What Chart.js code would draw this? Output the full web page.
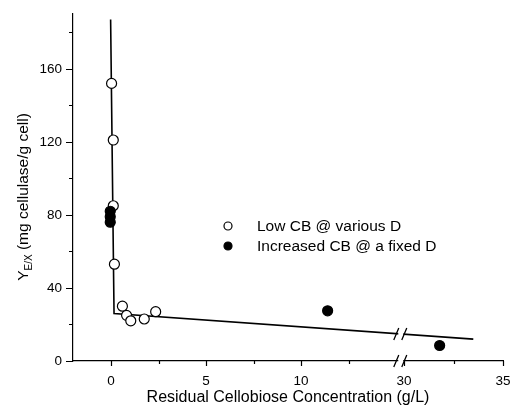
<!DOCTYPE html>
<html><head><meta charset="utf-8">
<script src="https://cdn.jsdelivr.net/npm/chart.js@4"></script>
<style>html,body{margin:0;padding:0;background:#fff}#wrap{width:510px;height:413px}</style>
</head><body><div id="wrap"><canvas id="c"></canvas></div>
<script>
// ---- data (real x values; x>=30 lie after the axis break) ----
const lowCB_x = [0.03, 0.12, 0.12, 0.18, 0.6, 0.82, 1.04, 1.75, 2.35];
const lowCB_y = [152, 121, 85, 53, 30, 25, 22, 23, 27];
const incCB_x = [-0.04, -0.04, -0.04, 11.4, 31.8];
const incCB_y = [82, 79, 76, 27.5, 8.5];
const fit_x = [-0.02, 0.16, 33.5];
const fit_y = [187, 26, 12];
const xMajorTicks = [0, 5, 10, 30, 35];
const xMinorTicks = [2.5, 7.5, 12.5, 32.5];
const yMajorTicks = [0, 40, 80, 120, 160];
const yMinorTicks = [20, 60, 100, 140, 180];
const seriesNames = ['Low CB @ various D', 'Increased CB @ a fixed D'];
const xTitle = 'Residual Cellobiose Concentration (g/L)';

// axis break mapping
const BREAK_LO = 15.42, BREAK_HI = 30, POST_SCALE = 1.042, BREAK_AT = 15.25;
function T(v){ return v >= BREAK_HI ? BREAK_LO + (v - BREAK_HI) * POST_SCALE : v; }
const pts = (xs, ys) => xs.map((x, i) => ({x: T(x), y: ys[i]}));
const xLabelMap = new Map(xMajorTicks.map(v => [T(v).toFixed(4), String(v)]));

const FONT = "'Liberation Sans', Arial, sans-serif";

const deco = {
  id: 'deco',
  afterDraw(chart){
    const ctx = chart.ctx, xs = chart.scales.x, ys = chart.scales.y, ca = chart.chartArea;
    ctx.save();
    ctx.strokeStyle = '#000'; ctx.lineWidth = 1.2;
    ctx.beginPath();
    yMajorTicks.forEach(v => { const p = Math.round(ys.getPixelForValue(v)) + 0.5; ctx.moveTo(ca.left - 7, p); ctx.lineTo(ca.left, p); });
    yMinorTicks.forEach(v => { const p = Math.round(ys.getPixelForValue(v)) + 0.5; ctx.moveTo(ca.left - 4, p); ctx.lineTo(ca.left, p); });
    xMajorTicks.forEach(v => { const p = Math.round(xs.getPixelForValue(T(v))) + 0.5; ctx.moveTo(p, ca.bottom); ctx.lineTo(p, ca.bottom + 5); });
    xMinorTicks.forEach(v => { const p = Math.round(xs.getPixelForValue(T(v))) + 0.5; ctx.moveTo(p, ca.bottom); ctx.lineTo(p, ca.bottom + 3); });
    ctx.stroke();

    const bx = xs.getPixelForValue(BREAK_AT);
    const drawBreak = (cy) => {
      ctx.fillStyle = '#fff';
      ctx.fillRect(bx - 2.5, cy - 2, 5, 4);
      ctx.beginPath();
      ctx.moveTo(bx - 7, cy + 6); ctx.lineTo(bx - 2, cy - 6);
      ctx.moveTo(bx + 1, cy + 6); ctx.lineTo(bx + 6, cy - 6);
      ctx.lineWidth = 1.3; ctx.strokeStyle = '#000'; ctx.stroke();
    };
    drawBreak(ca.bottom);
    const x1 = T(fit_x[1]), x2 = T(fit_x[2]);
    const lyv = fit_y[1] + (fit_y[2] - fit_y[1]) * (BREAK_AT - x1) / (x2 - x1);
    drawBreak(ys.getPixelForValue(lyv));

    ctx.fillStyle = '#000';
    ctx.translate(24, 197);
    ctx.rotate(-Math.PI / 2);
    ctx.textBaseline = 'middle';
    const big = '15.5px ' + FONT, small = '10px ' + FONT;
    ctx.font = big; const w1 = ctx.measureText('Y').width;
    const w3 = ctx.measureText(' (mg cellulase/g cell)').width;
    ctx.font = small; const w2 = ctx.measureText('E/X').width;
    let sx = -(w1 + w2 + w3) / 2;
    ctx.font = big; ctx.fillText('Y', sx, 0); sx += w1;
    ctx.font = small; ctx.fillText('E/X', sx, 5); sx += w2;
    ctx.font = big; ctx.fillText(' (mg cellulase/g cell)', sx, 0);
    ctx.setTransform(1, 0, 0, 1, 0, 0);

    const ds = chart.data.datasets;
    [[1, 226], [2, 246]].forEach(([di, y], k) => {
      ctx.beginPath();
      ctx.arc(228, y, 4, 0, Math.PI * 2);
      ctx.fillStyle = ds[di].backgroundColor; ctx.fill();
      ctx.strokeStyle = '#000'; ctx.lineWidth = 1.2; ctx.stroke();
      ctx.fillStyle = '#000'; ctx.font = '15.5px ' + FONT; ctx.textBaseline = 'middle';
      ctx.fillText(seriesNames[k], 257, y + 1);
    });
    ctx.restore();
  }
};

const zeroPad = s => { s.paddingTop = 0; s.paddingBottom = 0; s.paddingLeft = 0; s.paddingRight = 0; };

new Chart(document.getElementById('c'), {
  type: 'scatter',
  data: {
    datasets: [
      { label: 'fit', data: pts(fit_x, fit_y), showLine: true, borderColor: '#000', borderWidth: 1.6,
        pointRadius: 0, fill: false, tension: 0, order: 3 },
      { label: seriesNames[0], data: pts(lowCB_x, lowCB_y), pointStyle: 'circle', pointRadius: 5,
        backgroundColor: '#fff', borderColor: '#000', borderWidth: 1.2, order: 2 },
      { label: seriesNames[1], data: pts(incCB_x, incCB_y), pointStyle: 'circle', pointRadius: 5,
        backgroundColor: '#000', borderColor: '#000', borderWidth: 1.2, order: 1 }
    ]
  },
  options: {
    responsive: true, maintainAspectRatio: false, animation: false,
    devicePixelRatio: 1,
    layout: { padding: { top: 14, right: 7, left: 0, bottom: 0 } },
    plugins: { legend: { display: false }, tooltip: { enabled: false } },
    scales: {
      x: {
        type: 'linear', min: -2, max: T(35),
        grid: { display: false, drawTicks: false },
        border: { display: true, color: '#000', width: 1.2 },
        afterBuildTicks: s => { s.ticks = xMajorTicks.map(v => ({ value: T(v) })); },
        afterFit: s => { s.height = 52; zeroPad(s); },
        ticks: { color: '#000', font: { size: 13.5, family: FONT }, padding: 12, maxRotation: 0, autoSkip: false,
          callback: v => xLabelMap.get(Number(v).toFixed(4)) ?? '' },
        title: { display: true, text: xTitle, color: '#000', font: { size: 16, family: FONT }, padding: { top: 4, bottom: 6 } }
      },
      y: {
        type: 'linear', min: 0, max: 190,
        grid: { display: false, drawTicks: false },
        border: { display: true, color: '#000', width: 1.2 },
        afterBuildTicks: s => { s.ticks = yMajorTicks.map(v => ({ value: v })); },
        afterFit: s => { s.width = 73; zeroPad(s); },
        ticks: { color: '#000', font: { size: 13.5, family: FONT }, padding: 11 }
      }
    }
  },
  plugins: [deco]
});
</script>
</body></html>
